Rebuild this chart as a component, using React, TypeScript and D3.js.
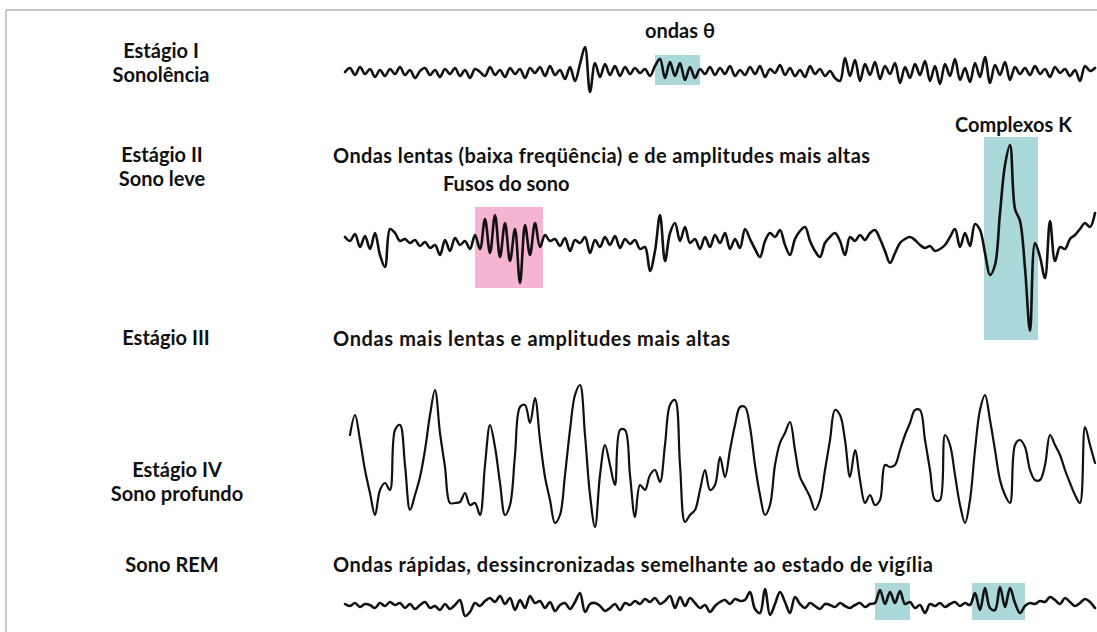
import React from "react";
import * as d3 from "d3";

// EEG samples: one value every time step (index), amplitude in arbitrary uV-like units, positive = up
const stage1Wave = [
  0, 4, -3, 5, -2, 3, -5, 2, -4, 3,
  -2, 5, -3, 2, -6, 1, 4, -3, 2, -5,
  3, -2, 4, -4, 2, -6, 3, 0, -4, 5,
  -3, 2, -5, 4, -2, 3, -6, 4, -1, 5,
  -4, 6, -3, 2, -7, 5, -9, 8, 25, -20,
  9, -5, 8, -3, 6, -4, 5, -2, 4, -1,
  3, -4, 6, 13, -6, 10, -4, 9, -8, 5,
  -6, 3, -2, 5, -3, 4, -2, 6, -4, 2,
  -3, 5, -2, 6, -5, 3, -1, 7, -3, 4,
  -4, 2, -5, 6, -2, 3, -4, 1, -6, -9,
  14, -4, 12, -9, 8, -3, 10, -7, 6, -2,
  9, -11, 5, -6, 8, -3, 11, -9, 6, -12,
  8, -4, 13, -8, 4, -10, 9, -5, 15, -11,
  7, -3, 10, -8, 5, -2, 4, -3, 6, -2,
  3, -5, 5, -1, 3, -4, 2, -9, 6, 1,
  4,
];

const stage2Wave = [
  6, 2, 9, -4, 7, -6, 10, -12, -24, 14,
  10, 2, 4, 0, 3, -3, 1, -5, -2, -12,
  3, -8, 5, -2, 2, -6, 8, -6, 24, -10,
  28, -14, 20, -18, 14, -40, 18, -12, 20, -4,
  8, 2, 4, -3, 5, -8, 3, 0, 6, -10,
  3, -4, 6, -2, 7, -5, 4, -1, 3, -6,
  -4, -28, -8, 28, -18, 10, 20, 2, 16, 0,
  4, -6, 6, -4, 8, 0, 10, -6, 4, -5,
  14, 4, -6, -14, 2, 10, 6, 13, -2, -12,
  4, 12, 16, 2, -8, -14, 0, 6, 10, 2,
  -12, 6, 2, 8, 3, 10, 13, 4, -8, -20,
  -10, 0, 4, 6, 3, -2, -5, -3, -8, -6,
  -2, 6, 14, -4, 10, -3, 19, 13, -10, -32,
  -22, 30, 78, 98, 34, 22, -25, -88, 0, -14,
  -35, 22, -18, -4, -6, 4, 8, 14, 20, 16,
  30,
];

// stages III and IV share one slow-wave trace, starting one step later
const stage34Wave = [
  20, 40, 15, -15, -38, -60, -35, -28, -35, 25,
  30, -10, -55, -40, -22, 5, 40, 65, 22, -12,
  -48, -48, -47, -38, -50, -48, -60, -10, 30, 8,
  -28, -60, -50, 0, 48, 50, 32, 57, 15, -22,
  -45, -68, -60, -20, 25, 60, 70, 20, -40, -72,
  -20, 10, -10, -30, 25, 25, -20, -62, -30, -35,
  -20, -15, -27, 10, 50, 55, -10, -67, -60, -55,
  -35, -15, -35, -30, -2, -22, 5, 30, 48, 48,
  28, -10, -40, -60, -50, -10, 12, 22, 33, 5,
  -22, -32, -42, -55, -45, -15, 15, 45, 40, 15,
  -22, 5, -25, -48, -40, -50, -45, -10, -12, -10,
  5, 20, 32, 45, 45, 15, -15, -45, -45, 20,
  10, -20, -50, -68, -45, 5, 45, 60, 35, 5,
  -25, -40, -48, 10, 15, 8, -15, -25, -25, -10,
  20, 10, 0, -15, -28, -40, -48, 28, 10, -8,
];

const remWave = [
  2, 0, 3, -1, 2, 1, -2, 3, 0, 4,
  1, 3, -2, 2, -3, 1, 4, -2, 0, -4,
  2, -3, 1, 6, -10, -6, 3, 0, 5, 8,
  4, 10, 2, 8, -4, 6, -2, 10, 3, 5,
  -2, 4, -5, 1, 3, -3, 4, 13, -6, 2,
  3, 0, -5, -2, 2, -4, 3, 1, 5, 2,
  7, 4, 8, 2, 5, 10, -2, 9, 0, 8,
  3, -2, 1, -6, 0, 4, 6, 2, 7, 5,
  6, 14, -3, -7, 17, -9, 2, 14, 4, -7,
  9, 2, -2, 3, 0, -3, 2, 1, -1, 3,
  0, -2, 1, 3, -1, 2, 3, 16, 2, 14,
  3, 15, 2, 4, -2, 1, -7, 2, 0, 3,
  -1, 2, 4, 0, 3, 1, 13, -4, 18, -2,
  -4, 19, -1, 18, 3, -7, 0, 3, 2, 5,
  4, 9, 6, 2, 8, 4, 0, 3, 7, 4,
  -2,
];

// highlighted events: trace, start/end index, low/high amplitude, kind
const highlightTrace = ["I", "II", "II", "REM", "REM"];
const highlightStart = [62, 26, 127.8, 106, 125.4];
const highlightEnd = [71, 39.6, 138.6, 113, 136];
const highlightLow = [-13, -45, -97, -14, -14];
const highlightHigh = [17, 36, 106, 23, 23];
const highlightKind = ["theta", "spindle", "kcomplex", "rem", "rem"];

const stageNames = [
  ["Estágio I", "Sonolência"],
  ["Estágio II", "Sono leve"],
  ["Estágio III"],
  ["Estágio IV", "Sono profundo"],
  ["Sono REM"],
];

const descriptions = [
  "Ondas lentas (baixa freqüência) e de amplitudes mais altas",
  "Ondas mais lentas e amplitudes mais altas",
  "Ondas rápidas, dessincronizadas semelhante ao estado de vigília",
];

const eventLabels = ["ondas θ", "Fusos do sono", "Complexos K"];

const W = 1097;
const H = 632;
const FONT = "Lato, 'Open Sans', sans-serif";
const INK = "#111";

const kindColor: Record<string, string> = {
  theta: "#abd8d8",
  spindle: "#f4b4d2",
  kcomplex: "#abd8d8",
  rem: "#abd8d8",
};

const App = () => {
  const x = d3.scaleLinear().domain([0, 150]).range([345, 1095]);
  // one px per unit, centered on each trace baseline
  const yFor = (base: number) =>
    d3.scaleLinear().domain([-100, 100]).range([base + 100, base - 100]);

  const traces = [
    { key: "I", values: stage1Wave, start: 0, y: yFor(72), width: 2.6 },
    { key: "II", values: stage2Wave, start: 0, y: yFor(243), width: 2.6 },
    { key: "III", values: stage34Wave, start: 1, y: yFor(455), width: 2.2 },
    { key: "REM", values: remWave, start: 0, y: yFor(606), width: 2.6 },
  ];
  const byKey: Record<string, (typeof traces)[number]> = {};
  traces.forEach((t) => (byKey[t.key] = t));

  const labelX = [161, 162, 166, 177, 172];
  const labelY = [58, 162, 345, 477, 572];

  // description text: x, baseline, span width
  const descPos = [
    [333, 163, 537],
    [333, 346, 397],
    [333, 572, 600],
  ];

  return (
    <svg
      width={W}
      height={H}
      style={{ position: "absolute", left: 0, top: 0, background: "#fff" }}
    >
      {/* frame */}
      <line x1={6} x2={W} y1={10} y2={10} stroke="#c8c8c8" strokeWidth={2} />
      <line x1={6} x2={6} y1={10} y2={H} stroke="#c8c8c8" strokeWidth={2} />

      {/* highlight boxes */}
      {highlightTrace.map((tk, i) => {
        const t = byKey[tk];
        return (
          <rect
            key={"h" + i}
            x={x(highlightStart[i])}
            width={x(highlightEnd[i]) - x(highlightStart[i])}
            y={t.y(highlightHigh[i])}
            height={t.y(highlightLow[i]) - t.y(highlightHigh[i])}
            fill={kindColor[highlightKind[i]]}
          />
        );
      })}

      {/* traces */}
      {traces.map((t) => {
        const line = d3
          .line<number>()
          .x((_, i) => x(i + t.start))
          .y((d) => t.y(d))
          .curve(d3.curveCatmullRom.alpha(0.5));
        return (
          <path
            key={t.key}
            d={line(t.values) || ""}
            fill="none"
            stroke={INK}
            strokeWidth={t.width}
            strokeLinejoin="round"
            strokeLinecap="round"
          />
        );
      })}

      {/* stage names */}
      <g fontFamily={FONT} fontWeight={700} fontSize={20} fill={INK} textAnchor="middle">
        {stageNames.map((lines, i) =>
          lines.map((s, j) => (
            <text key={`s${i}${j}`} x={labelX[i]} y={labelY[i] + j * 24}>
              {s}
            </text>
          ))
        )}
      </g>

      {/* descriptions and event labels */}
      <g fontFamily={FONT} fontWeight={700} fontSize={20} fill={INK}>
        {descriptions.map((s, i) => (
          <text
            key={"d" + i}
            x={descPos[i][0]}
            y={descPos[i][1]}
            textLength={descPos[i][2]}
            lengthAdjust="spacing"
          >
            {s}
          </text>
        ))}
        <text x={645} y={38}>{eventLabels[0]}</text>
        <text x={443} y={191}>{eventLabels[1]}</text>
        <text x={955} y={132}>{eventLabels[2]}</text>
      </g>
    </svg>
  );
};

export default App;
